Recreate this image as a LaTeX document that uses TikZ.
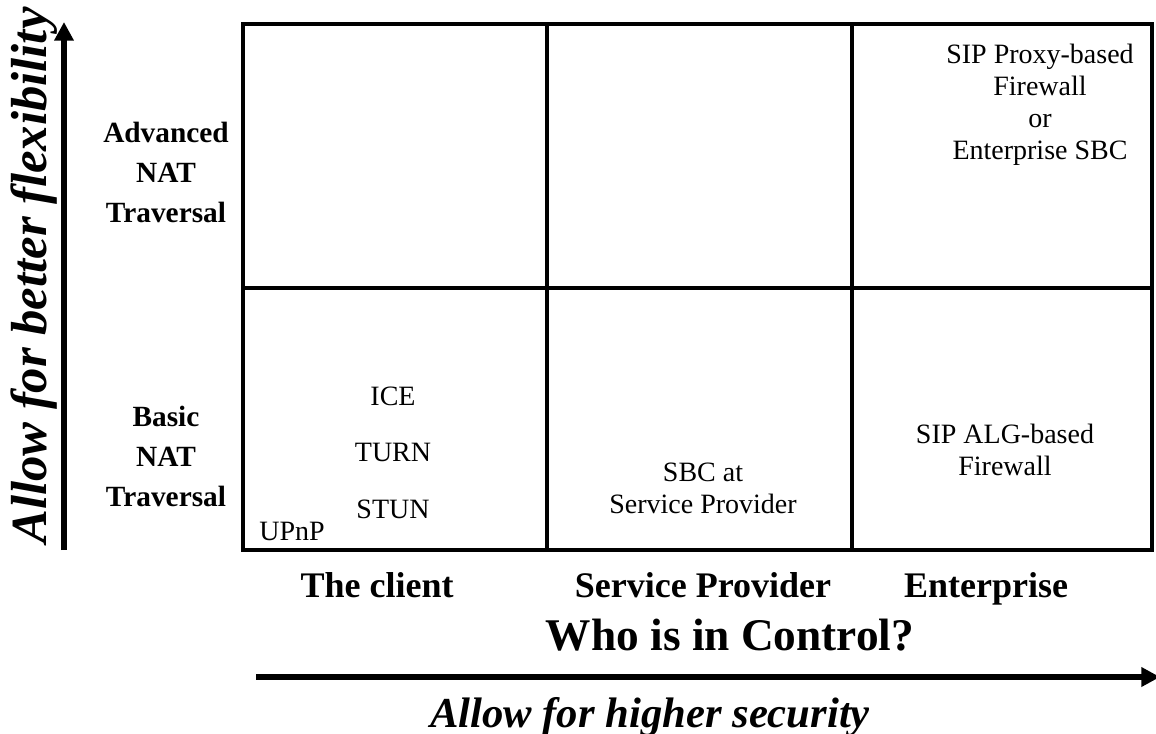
\documentclass[tikz,border=0pt]{standalone}
\usepackage{fontspec}
\setmainfont{Liberation Serif}
\usetikzlibrary{arrows.meta}
\begin{document}
\begin{tikzpicture}[x=0.75pt,y=-0.75pt,
  grid/.style={line width=3pt},
  axis/.style={line width=4pt,-{Triangle[length=14pt,width=14pt]}},
  cell/.style={font=\fontsize{21}{24}\selectfont,align=center,inner sep=0pt},
  rowlab/.style={font=\fontsize{22}{30}\selectfont\bfseries,align=center,inner sep=0pt},
  collab/.style={font=\fontsize{27}{30}\selectfont\bfseries,inner sep=0pt,anchor=base},
  bigital/.style={font=\fontsize{32}{36}\selectfont\bfseries\itshape,inner sep=0pt}]
\useasboundingbox (0,0) rectangle (1156,733);
\clip (0,0) rectangle (1156,733);
% grid
\coordinate (g00) at (243,24);
\coordinate (g11) at (1152,550);
\draw[grid] (g00) rectangle (g11);
\coordinate (v1t) at (547,24); \coordinate (v1b) at (547,550);
\coordinate (v2t) at (852,24); \coordinate (v2b) at (852,550);
\coordinate (hl) at (243,288); \coordinate (hr) at (1152,288);
\draw[grid] (v1t) -- (v1b);
\draw[grid] (v2t) -- (v2b);
\draw[grid] (hl) -- (hr);
% axes
\coordinate (ya) at (64,550); \coordinate (yb) at (64,22);
\draw[axis] (ya) -- (yb);
\coordinate (xa) at (256,677); \coordinate (xb) at (1160,677);
\draw[axis] (xa) -- (xb);
% axis titles
\node[bigital,font=\fontsize{38}{40}\selectfont\bfseries\itshape,rotate=90,anchor=base west] (flex) at (46,544) {Allow for better flexibility};
\node[bigital,anchor=base] (sec) at (650,727) {Allow for higher security};
\node[font=\fontsize{34}{38}\selectfont\bfseries,inner sep=0pt,anchor=base] (who) at (730,650) {Who is in Control?};
% row labels
\node[rowlab] (adv) at (166,172) {Advanced\\NAT\\Traversal};
\node[rowlab] (bas) at (166,456) {Basic\\NAT\\Traversal};
% column labels
\node[collab] (c1) at (377,597) {The client};
\node[collab] (c2) at (703,597) {Service Provider};
\node[collab] (c3) at (986,597) {Enterprise};
% cell contents
\node[cell] (sip) at (1040,105) {SIP Proxy-based\\Firewall\\or\\Enterprise SBC};
\node[cell] (ice) at (393,396) {ICE};
\node[cell] (turn) at (393,452) {TURN};
\node[cell] (stun) at (393,509) {STUN};
\node[cell] (upnp) at (292,531) {UPnP};
\node[cell] (sbc) at (703,488) {SBC at\\Service Provider};
\node[cell] (alg) at (1005,450) {SIP ALG-based\\Firewall};
\end{tikzpicture}
\end{document}
